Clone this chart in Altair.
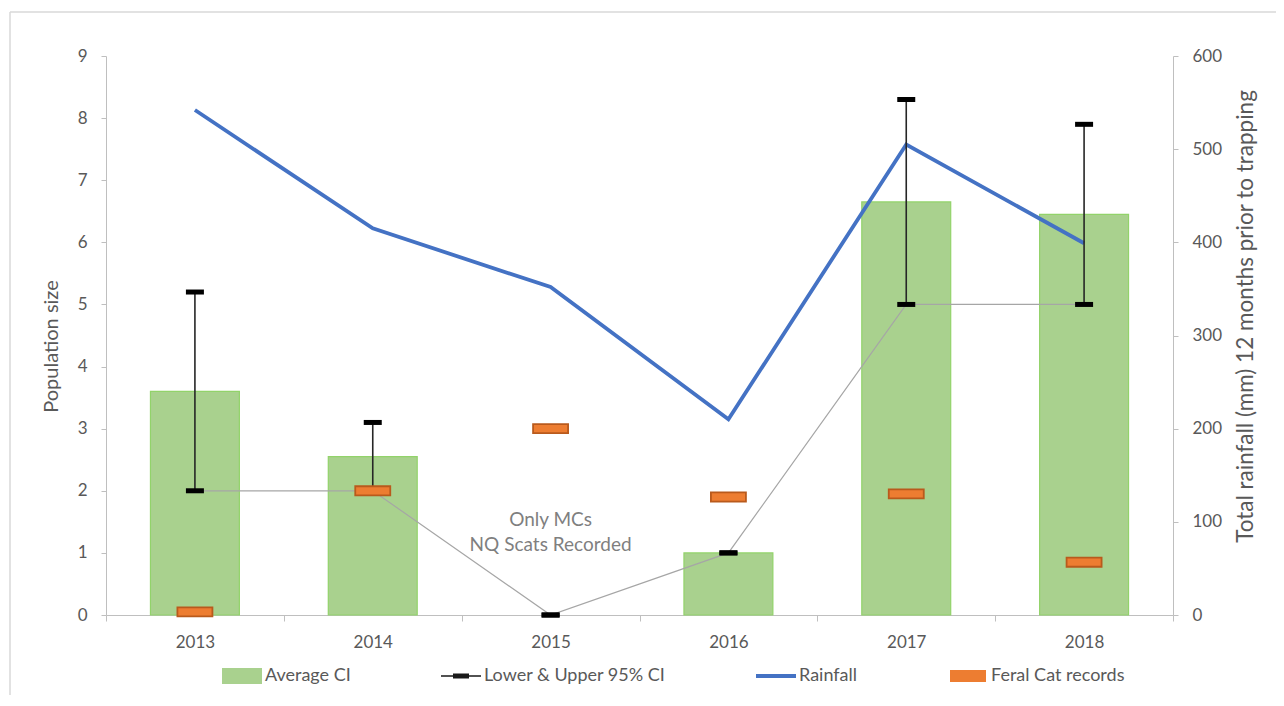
import altair as alt
import pandas as pd

years = ["2013", "2014", "2015", "2016", "2017", "2018"]
avg_ci = [3.6, 2.55, 0.0, 1.0, 6.65, 6.45]
lower_ci = [2.0, 2.0, 0.0, 1.0, 5.0, 5.0]
upper_ci = [5.2, 3.1, 0.0, 1.0, 8.3, 7.9]
rainfall = [542, 415, 352, 210, 505, 399]
feral_cat = [0.05, 2.0, 3.0, 1.9, 1.95, 0.85]

left_ticks = list(range(0, 10))
right_ticks = [0, 100, 200, 300, 400, 500, 600]

note_year = ["2015"]
note_y = [1.53]
note_text = [["Only MCs", "NQ Scats Recorded"]]

legend_names = ["Average CI", "Lower & Upper 95% CI", "Rainfall", "Feral Cat records"]
legend_colors = ["#a9d18e", "#1a1a1a", "#4472c4", "#ed7d31"]
legend_shapes = [
    "M-1,-0.4H1V0.4H-1Z",
    "M-1,-0.04H1V0.04H-1Z M-0.4,-0.13H0.4V0.13H-0.4Z",
    "M-1,-0.1H1V0.1H-1Z",
    "M-0.9,-0.3H0.9V0.3H-0.9Z",
]

df = pd.DataFrame({
    "year": years,
    "avg": avg_ci,
    "lower": lower_ci,
    "upper": upper_ci,
    "rain": rainfall,
    "cat": feral_cat,
})
note_df = pd.DataFrame({"year": note_year, "y": note_y, "text": note_text})
legend_df = pd.DataFrame({"series": legend_names})

FONT = "Lato"
GREY = "#595959"
AX = "#bfbfbf"

x_axis = alt.Axis(title=None, labelAngle=0, tickBand="extent", tickSize=6,
                  labelPadding=13, domainColor=AX, tickColor=AX)
x_enc = alt.X("year:N", sort=years,
              scale=alt.Scale(paddingInner=0, paddingOuter=0), axis=x_axis)

left_scale = alt.Scale(domain=[0, 9], nice=False, zero=True)
right_scale = alt.Scale(domain=[0, 600], nice=False)

left_axis = alt.Axis(title="Population size", values=left_ticks, grid=False,
                     tickSize=5, labelPadding=14, domainColor=AX, tickColor=AX,
                     titleX=-55, titleY=290, titleAngle=270, titleAlign="center",
                     titleBaseline="middle", titleFontSize=20)
right_axis = alt.Axis(title="Total rainfall (mm) 12 months prior to trapping",
                      orient="right", values=right_ticks, grid=False,
                      tickSize=5, labelPadding=14, domainColor=AX, tickColor=AX,
                      titleX=72, titleY=260, titleAngle=270, titleAlign="center",
                      titleBaseline="middle", titleFontSize=22.5)

base = alt.Chart(df)

frame_left = alt.Chart(note_df).mark_rule(color="#d9d9d9", strokeWidth=1.5).encode(
    x=alt.value(-96), y=alt.value(-44), y2=alt.value(640))
frame_top = alt.Chart(note_df).mark_rule(color="#d9d9d9", strokeWidth=1.5).encode(
    x=alt.value(-96), x2=alt.value(1170), y=alt.value(-44))

bars = base.mark_bar(fill="#a9d18e", stroke="#92d36a", strokeWidth=1.2,
                     width=alt.RelativeBandSize(0.5)).encode(
    x=x_enc,
    y=alt.Y("avg:Q", scale=left_scale, axis=left_axis),
    opacity=alt.condition("datum.avg > 0", alt.value(1), alt.value(0)),
)

grey_line = base.mark_line(color="#a6a6a6", strokeWidth=1.2).encode(
    x=x_enc,
    y=alt.Y("lower:Q", scale=left_scale, axis=None),
)

rain_line = base.mark_line(color="#4472c4", strokeWidth=3.8).encode(
    x=x_enc,
    y=alt.Y("rain:Q", scale=right_scale, axis=right_axis),
)

err_rule = base.mark_rule(color="#262626", strokeWidth=1.6).encode(
    x=x_enc,
    y=alt.Y("lower:Q", scale=left_scale, axis=None),
    y2="upper:Q",
)

cap_low = base.mark_tick(color="#000000", size=18, thickness=5, opacity=1).encode(
    x=x_enc,
    y=alt.Y("lower:Q", scale=left_scale, axis=None),
)
cap_up = base.mark_tick(color="#000000", size=18, thickness=5, opacity=1).encode(
    x=x_enc,
    y=alt.Y("upper:Q", scale=left_scale, axis=None),
)

cats = base.mark_point(shape="M-1,-0.26H1V0.26H-1Z", size=1225, filled=True,
                       fill="#ed7d31", stroke="#b95a1c", strokeWidth=1.8,
                       opacity=1).encode(
    x=x_enc,
    y=alt.Y("cat:Q", scale=left_scale, axis=None),
)

note = alt.Chart(note_df).mark_text(font=FONT, fontSize=19, color="#7f7f7f",
                                    baseline="middle", align="center",
                                    lineHeight=25).encode(
    x=x_enc,
    y=alt.Y("y:Q", scale=left_scale, axis=None),
    text="text",
)

leg = alt.Legend(title=None, orient="none", legendX=116, legendY=600,
                 direction="horizontal", columns=4, columnPadding=90,
                 symbolSize=1600, symbolOpacity=1, labelFont=FONT,
                 labelFontSize=18, labelColor=GREY, labelOffset=3, padding=0,
                 symbolStrokeWidth=0, labelLimit=400)

legend_layer = alt.Chart(legend_df).mark_point(filled=True, opacity=0).encode(
    color=alt.Color("series:N", sort=legend_names,
                    scale=alt.Scale(domain=legend_names, range=legend_colors),
                    legend=leg),
    shape=alt.Shape("series:N", sort=legend_names,
                    scale=alt.Scale(domain=legend_names, range=legend_shapes),
                    legend=leg),
)

chart = alt.layer(
    frame_left, frame_top, bars, grey_line, rain_line, err_rule, cap_low, cap_up,
    cats, note, legend_layer
).resolve_scale(
    y="independent"
).properties(
    width=1067, height=559,
    background="white",
    autosize=alt.AutoSizeParams(type="none"),
    padding={"left": 98, "top": 48, "right": 103, "bottom": 80},
).configure_view(
    stroke=None
).configure_axis(
    labelFont=FONT, labelFontSize=17, labelColor=GREY,
    titleFont=FONT, titleFontSize=20, titleColor=GREY, titleFontWeight="normal",
)

chart.save("out.html", embed_options={"renderer": "svg", "actions": False})
